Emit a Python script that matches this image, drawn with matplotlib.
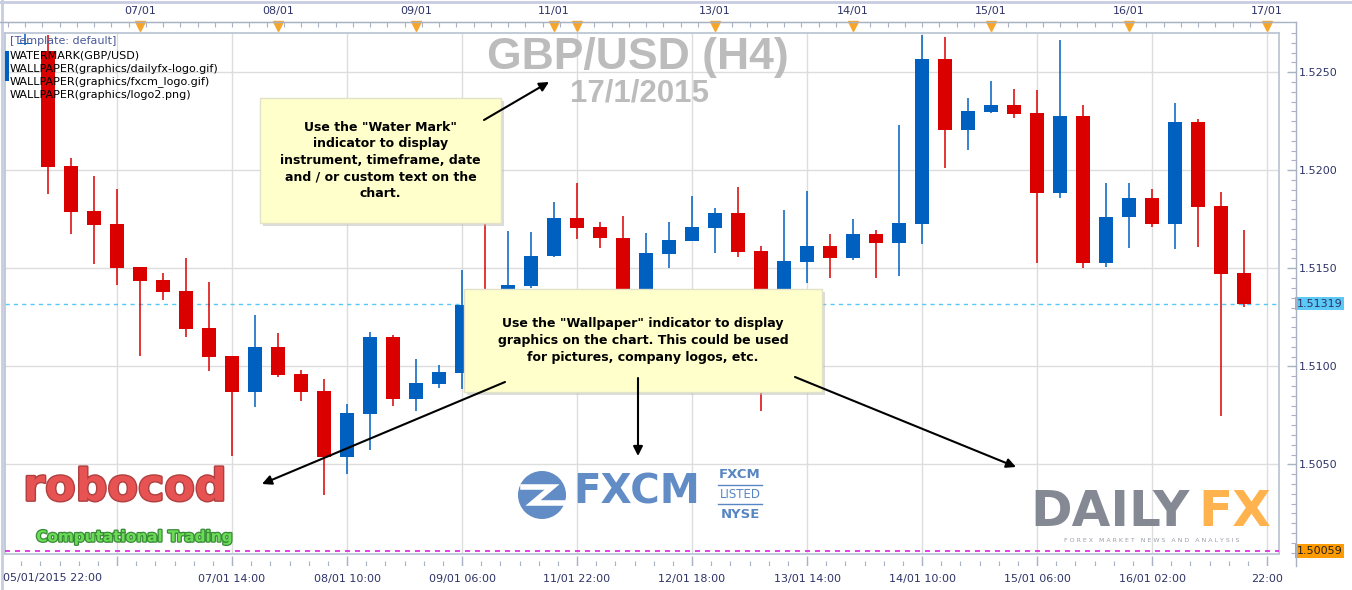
import numpy as np
import matplotlib
matplotlib.use("Agg")
import matplotlib.pyplot as plt
import matplotlib.patheffects as pe
from matplotlib.patches import Rectangle, Circle
from matplotlib.ticker import MultipleLocator, FuncFormatter
import matplotlib.transforms as mtrans

# GBP/USD H4 candles, index 0 = first full candle on screen
candle_idx = list(range(-2, 53))
opens = [1.52455, 1.52645, 1.52607, 1.52022, 1.51793, 1.51726, 1.51506, 1.51440, 1.51385, 1.51196,
         1.51054, 1.50869, 1.51098, 1.50960, 1.50873, 1.50538, 1.50757, 1.51150, 1.50834, 1.50910,
         1.50966, 1.51313, 1.51300, 1.51412, 1.51564, 1.51757, 1.51711, 1.51656, 1.51350, 1.51574,
         1.51641, 1.51707, 1.51782, 1.51588, 1.51380, 1.51533, 1.51614, 1.51554, 1.51675, 1.51631,
         1.51728, 1.52568, 1.52207, 1.52297, 1.52333, 1.52292, 1.51886, 1.52277, 1.51528, 1.51763,
         1.51859, 1.51728, 1.52246, 1.51818, 1.51476]
highs = [1.52625, 1.52800, 1.52692, 1.52061, 1.51971, 1.51905, 1.51506, 1.51476, 1.51553, 1.51430,
         1.51054, 1.51262, 1.51170, 1.50981, 1.50934, 1.50806, 1.51175, 1.51160, 1.51037, 1.51006,
         1.51491, 1.51730, 1.51690, 1.51685, 1.51838, 1.51935, 1.51736, 1.51767, 1.51680, 1.51736,
         1.51869, 1.51808, 1.51915, 1.51614, 1.51798, 1.51894, 1.51675, 1.51751, 1.51695, 1.52231,
         1.52690, 1.52680, 1.52369, 1.52455, 1.52415, 1.52410, 1.52665, 1.52333, 1.51935, 1.51935,
         1.51905, 1.52343, 1.52262, 1.51889, 1.51695]
lows = [1.52440, 1.52640, 1.51881, 1.51676, 1.51523, 1.51417, 1.51054, 1.51340, 1.51151, 1.50977,
        1.50543, 1.50793, 1.50946, 1.50823, 1.50344, 1.50451, 1.50575, 1.50798, 1.50773, 1.50890,
        1.50885, 1.51260, 1.51270, 1.51400, 1.51560, 1.51651, 1.51605, 1.51300, 1.51310, 1.51500,
        1.51641, 1.51579, 1.51559, 1.50773, 1.51340, 1.51427, 1.51452, 1.51544, 1.51452, 1.51462,
        1.51626, 1.52013, 1.52105, 1.52292, 1.52268, 1.51528, 1.51860, 1.51503, 1.51508, 1.51605,
        1.51712, 1.51600, 1.51610, 1.50747, 1.51305]
closes = [1.52608, 1.52650, 1.52018, 1.51789, 1.51722, 1.51503, 1.51437, 1.51381, 1.51192, 1.51049,
          1.50869, 1.51098, 1.50956, 1.50869, 1.50538, 1.50761, 1.51150, 1.50834, 1.50914, 1.50970,
          1.51313, 1.51300, 1.51415, 1.51564, 1.51757, 1.51707, 1.51656, 1.51350, 1.51578, 1.51644,
          1.51711, 1.51782, 1.51584, 1.51380, 1.51537, 1.51614, 1.51554, 1.51675, 1.51631, 1.51731,
          1.52568, 1.52207, 1.52302, 1.52333, 1.52289, 1.51886, 1.52277, 1.51528, 1.51763, 1.51859,
          1.51728, 1.52246, 1.51814, 1.51472, 1.51319]

last_price = 1.51319
low_mark = 1.50059

top_day_pos = [4, 10, 16, 22, 29, 35, 41, 47, 53]
top_day_labels = ['07/01', '08/01', '09/01', '11/01', '13/01', '14/01', '15/01', '16/01', '17/01']
day_marker_pos = [4, 10, 16, 22, 23, 29, 35, 41, 47, 53]

grid_pos = [3, 8, 13, 18, 23, 28, 33, 38, 43, 48, 53]
bottom_pos = [8, 13, 18, 23, 28, 33, 38, 43, 48, 53]
bottom_labels = ['07/01 14:00', '08/01 10:00', '09/01 06:00', '11/01 22:00', '12/01 18:00',
                 '13/01 14:00', '14/01 10:00', '15/01 06:00', '16/01 02:00', '22:00']
first_time_label = '05/01/2015 22:00'

RED = '#DA0000'
BLUE = '#0060C0'
NAVY = '#2E3468'
AXCOL = '#A8B2C2'
XLIM = (-1.87, 53.52)
YLIM = (1.50043, 1.52700)

W, H = 1352, 590
fig = plt.figure(figsize=(W / 100, H / 100), dpi=100)
fig.patch.set_facecolor('white')

def frac(x0, y0, x1, y1):
    return [x0 / W, 1 - y1 / H, (x1 - x0) / W, (y1 - y0) / H]

ax = fig.add_axes(frac(5, 33, 1279, 554))
ax.set_xlim(*XLIM)
ax.set_ylim(*YLIM)

o = np.array(opens); c = np.array(closes)
cols = [BLUE if cc >= oo else RED for oo, cc in zip(o, c)]
for g in grid_pos:
    ax.axvline(g, color='#DDDDDD', lw=1, zorder=0)
for p in np.arange(1.5050, 1.5251, 0.005):
    ax.axhline(p, color='#DDDDDD', lw=1, zorder=0)
ax.axhline(last_price, color='#55C8F5', lw=1, ls=(0, (3, 3)), zorder=1)
ax.axhline(low_mark, color='#E01EE0', lw=1.2, ls=(0, (3, 3)), zorder=4)
ax.vlines(candle_idx, lows, highs, colors=cols, lw=1.1, zorder=2)
ax.bar(candle_idx, np.maximum(np.abs(c - o), 0.00004), bottom=np.minimum(o, c),
       width=0.61, color=cols, lw=0, zorder=3)
ax.set_xticks([]); ax.set_yticks([])
for s in ax.spines.values():
    s.set_color('#BCC6D4'); s.set_linewidth(1.3)

# price scale on the right
ax_r = fig.add_axes(frac(1279, 33, 1296, 554))
ax_r.set_ylim(*YLIM)
ax_r.patch.set_alpha(0)
for s in ax_r.spines.values():
    s.set_visible(False)
ax_r.yaxis.set_major_locator(MultipleLocator(0.005))
ax_r.yaxis.set_minor_locator(MultipleLocator(0.0005))
ax_r.yaxis.set_major_formatter(FuncFormatter(lambda v, _: f'{v:.4f}'))
ax_r.tick_params(axis='y', which='both', left=False, right=True, labelleft=False, labelright=True,
                 direction='in', color=AXCOL, labelcolor=NAVY, labelsize=8, pad=2)
ax_r.tick_params(axis='y', which='major', length=6.5, width=1)
ax_r.tick_params(axis='y', which='minor', length=3.6, width=0.8)
ax_r.set_xticks([])
tr = mtrans.blended_transform_factory(ax_r.transAxes, ax_r.transData)
ax_r.text(1.05, last_price, f'{last_price:.5f}', transform=tr, fontsize=8, color=NAVY, va='center',
          ha='left', bbox=dict(boxstyle='square,pad=0.15', fc='#5BC8F5', ec='none'), clip_on=False)
ax_r.text(1.05, low_mark, f'{low_mark:.5f}', transform=tr, fontsize=8, color='#222222', va='center',
          ha='left', bbox=dict(boxstyle='square,pad=0.15', fc='#FF9A00', ec='none'), clip_on=False)

# top date strip
ax_t = fig.add_axes(frac(5, 22, 1279, 33))
ax_t.set_xlim(*XLIM)
ax_t.set_ylim(0, 1)
ax_t.patch.set_alpha(0)
for k, s in ax_t.spines.items():
    s.set_visible(k == 'top')
ax_t.spines['top'].set_color(AXCOL)
ax_t.set_yticks([])
ax_t.set_xticks(top_day_pos)
ax_t.set_xticklabels(top_day_labels)
ax_t.xaxis.set_minor_locator(MultipleLocator(0.75, offset=0.5))
ax_t.tick_params(axis='x', which='both', bottom=False, top=True, labelbottom=False, labeltop=True,
                 direction='in', color=AXCOL, labelcolor=NAVY, labelsize=8, pad=4)
ax_t.tick_params(axis='x', which='major', length=0)
ax_t.tick_params(axis='x', which='minor', length=3.6, width=0.8)
ax_t.plot(day_marker_pos, [0.6] * len(day_marker_pos), 'v', color='#F7A52A', ms=7, clip_on=False)

# bottom time strip
ax_b = fig.add_axes(frac(5, 554, 1279, 566))
ax_b.set_xlim(*XLIM)
ax_b.set_ylim(0, 1)
ax_b.patch.set_alpha(0)
for s in ax_b.spines.values():
    s.set_visible(False)
ax_b.set_yticks([])
minor_b = np.arange(-2, 53.6, 5 / 6)
ax_b.vlines(minor_b, 0, 0.4, color=AXCOL, lw=0.8)
ax_b.vlines([-2] + grid_pos, 0, 0.85, color=AXCOL, lw=1)
ax_b.set_xticks(bottom_pos)
ax_b.set_xticklabels(bottom_labels)
ax_b.tick_params(axis='x', length=0, labelcolor=NAVY, labelsize=8, pad=6)

# overlay in pixel coordinates for frame, texts, callouts and logos
ov = fig.add_axes([0, 0, 1, 1])
ov.set_xlim(0, W); ov.set_ylim(H, 0)
ov.axis('off')
ov.patch.set_alpha(0)
ov.plot([0, W], [1.5, 1.5], color='#C8CCE0', lw=2)
ov.plot([1.5, 1.5], [0, H], color='#C8CCE0', lw=2)
ov.plot([0, 1296], [22, 22], color=AXCOL, lw=1)
ov.plot([1296, 1296], [22, 566], color=AXCOL, lw=1)
ov.text(3, 578, first_time_label, fontsize=8, color=NAVY, va='center', ha='left')

# legend of template items
ov.text(10, 41, '[Template: default]', fontsize=8, color='#4A5A9A', va='center')
for i, t in enumerate(['WATERMARK(GBP/USD)', 'WALLPAPER(graphics/dailyfx-logo.gif)',
                       'WALLPAPER(graphics/fxcm_logo.gif)', 'WALLPAPER(graphics/logo2.png)']):
    ov.text(10, 55 + 13.5 * i, t, fontsize=8, color='black', va='center')

# watermark
ov.text(638, 58, 'GBP/USD (H4)', family='Liberation Sans', weight='bold', fontsize=32,
        color='#B5B5B5', alpha=0.9, ha='center', va='center')
ov.text(640, 93, '17/1/2015', family='Liberation Sans', weight='bold', fontsize=22.5,
        color='#B5B5B5', alpha=0.9, ha='center', va='center')

def callout(x0, y0, x1, y1, text):
    ov.add_patch(Rectangle((x0 + 3, y0 + 3), x1 - x0, y1 - y0, fc='#BBBBBB', ec='none', alpha=0.5))
    ov.add_patch(Rectangle((x0, y0), x1 - x0, y1 - y0, fc='#FFFFCC', ec='#E2E2C8', lw=1))
    ov.text((x0 + x1) / 2, (y0 + y1) / 2, text, fontsize=9, weight='bold', color='black',
            ha='center', va='center', multialignment='center', linespacing=1.36)

def arrow(tail, head):
    ov.annotate('', xy=head, xytext=tail,
                arrowprops=dict(arrowstyle='-|>', color='black', lw=1.5, mutation_scale=14,
                                shrinkA=0, shrinkB=0))

callout(260, 98, 501, 223, 'Use the "Water Mark"\nindicator to display\ninstrument, timeframe, date\n'
        'and / or custom text on the\nchart.')
arrow((484, 120), (549, 82))
callout(464, 289, 822, 392, 'Use the "Wallpaper" indicator to display\ngraphics on the chart. This could be used\n'
        'for pictures, company logos, etc.')
arrow((505, 382), (262, 484))
arrow((638, 378), (638, 456))
arrow((795, 377), (1016, 467))

# robocod logo
ov.text(125, 488, 'robocod', fontsize=32, weight='bold', color='#E65352', ha='center', va='center',
        path_effects=[pe.withStroke(linewidth=2, foreground='#B04040')])
ov.text(134, 537, 'Computational Trading', fontsize=11, weight='bold', color='#6BDC55', ha='center',
        va='center', path_effects=[pe.withStroke(linewidth=1.8, foreground='#3A8A3A')])

# FXCM logo
FX = '#5886C2'
ov.add_patch(Circle((542, 495), 24, fc=FX, ec='none', alpha=0.95))
ov.plot([523, 552, 533, 566], [487, 487, 503, 503], color='white', lw=4, solid_joinstyle='miter')
ov.text(573, 493, 'FXCM', fontsize=29, weight='bold', color=FX, ha='left', va='center', alpha=0.95)
ov.text(740, 475, 'FXCM', fontsize=9.5, weight='bold', color=FX, ha='center', va='center')
ov.plot([718, 762], [485, 485], color=FX, lw=1)
ov.text(740, 495, 'LISTED', fontsize=8.5, color=FX, ha='center', va='center')
ov.plot([718, 762], [504, 504], color=FX, lw=1)
ov.text(740, 515, 'NYSE', fontsize=9.5, weight='bold', color=FX, ha='center', va='center')

# DailyFX logo
ov.text(1030, 512, 'DAILY', fontsize=36, weight='bold', color='#7D838E', ha='left', va='center', alpha=0.95)
ov.text(1198, 512, 'FX', fontsize=36, weight='bold', color='#FFAF45', ha='left', va='center', alpha=0.95)
ov.text(1152, 541, 'F O R E X   M A R K E T   N E W S   A N D   A N A L Y S I S', fontsize=4.5,
        color='#9A9EA6', ha='center', va='center')

fig.savefig('out.png', dpi=100, facecolor='white')
